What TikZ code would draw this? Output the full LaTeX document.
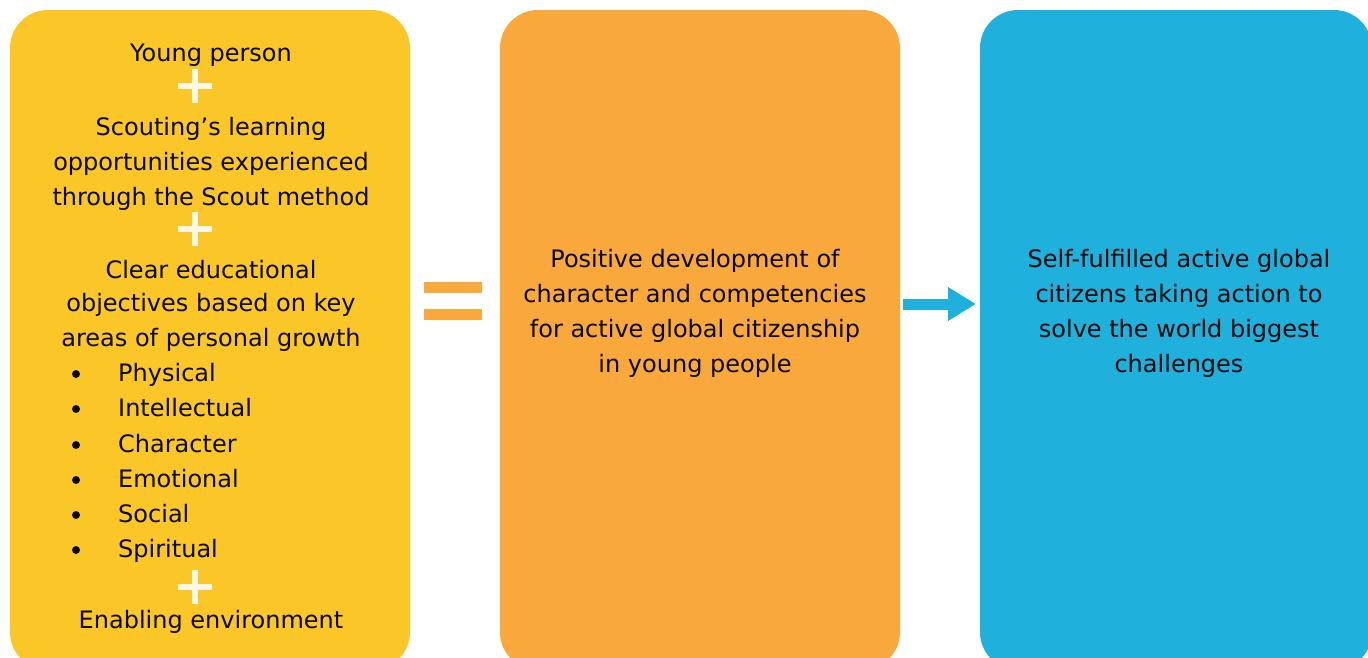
\documentclass[tikz,border=0pt]{standalone}
\usepackage{fontspec}
\setmainfont{DejaVu Sans}
\usetikzlibrary{arrows.meta}
\definecolor{scyellow}{HTML}{FBC728}
\definecolor{scorange}{HTML}{F9A83B}
\definecolor{scblue}{HTML}{20B0DC}
\definecolor{plusc}{HTML}{FFF8E6}
\definecolor{txt}{HTML}{0A0A0A}
\tikzset{
  panel/.style={rounded corners=38pt, minimum width=400pt, minimum height=660pt, outer sep=0pt, inner sep=0pt, anchor=north west},
  lbl/.style={inner sep=0pt, text=txt, font=\fontsize{24}{35}\selectfont},
  plussign/.style={draw=plusc, line width=6pt},
  eqbar/.style={fill=scorange},
  flow/.style={draw=scblue, line width=11pt, -{Triangle[length=28pt,width=32pt]}, shorten <=3pt, shorten >=4pt}
}
\begin{document}
\begin{tikzpicture}[x=1pt,y=-1pt]
\useasboundingbox (0,0) rectangle (1368,657);
\begin{scope}
\clip (0,0) rectangle (1368,657);
\node[panel, fill=scyellow] (yb) at (10,10) {};
\node[panel, fill=scorange] (ob) at (500,10) {};
\node[panel, fill=scblue, minimum width=392pt] (bb) at (980,10) {};
\end{scope}
% left texts
\node[lbl] (t1) at (211,55) {Young person};
\node[lbl] (t2) at (211,129) {Scouting’s learning};
\node[lbl] (t3) at (211,164) {opportunities experienced};
\node[lbl] (t4) at (211,199) {through the Scout method};
\node[lbl] (t5) at (211,270) {Clear educational};
\node[lbl] (t6) at (211,305) {objectives based on key};
\node[lbl] (t7) at (211,340) {areas of personal growth};
\foreach \n/\w/\y in {b1/Physical/374, b2/Intellectual/409, b3/Character/445, b4/Emotional/480, b5/Social/515, b6/Spiritual/550}{
  \node[lbl, anchor=west] (\n) at (118,\y) {\strut\w};
  \fill[txt] (76,\y) circle (4pt);
}
\node[lbl] (t8) at (211,622) {Enabling environment};
% plus signs
\foreach \y in {86,229,587}{
  \draw[plussign] (195,\y-17) -- (195,\y+17) (178,\y) -- (212,\y);
}
% equals
\fill[eqbar] (424,282) rectangle (482,293);
\fill[eqbar] (424,309) rectangle (482,320);
% middle text
\node[lbl, align=center, anchor=north] (mt) at (695,249) {Positive development of\\character and competencies\\for active global citizenship\\in young people};
% right text
\node[lbl, align=center, anchor=north] (rt) at (1179,249) {Self-fulfilled active global\\citizens taking action to\\solve the world biggest\\challenges};
% arrow
\coordinate (as) at (ob.east |- 0,304);
\coordinate (ae) at (bb.west |- 0,304);
\draw[flow] (as) -- (ae);
\end{tikzpicture}
\end{document}
